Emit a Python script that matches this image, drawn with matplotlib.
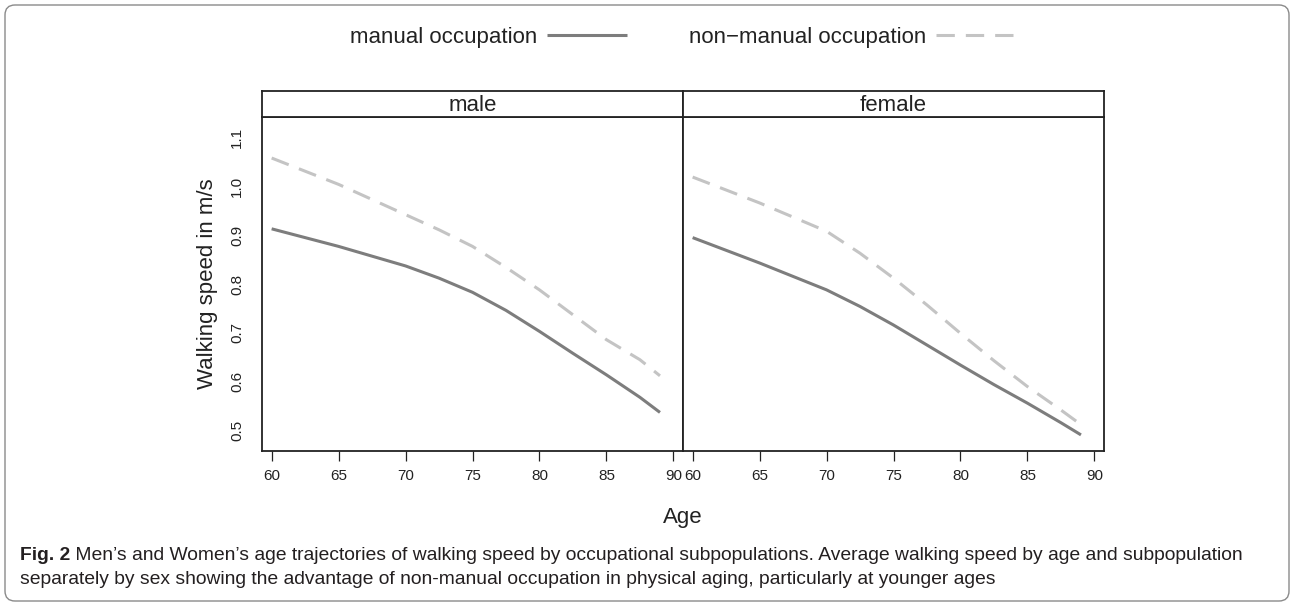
import matplotlib.pyplot as plt
from matplotlib.patches import FancyBboxPatch

ages = [60, 65, 70, 72.5, 75, 77.5, 80, 82.5, 85, 87.5, 89]

# walking speed (m/s)
male_manual = [0.913, 0.877, 0.837, 0.812, 0.783, 0.746, 0.703, 0.658, 0.614, 0.568, 0.537]
male_nonmanual = [1.058, 1.004, 0.942, 0.911, 0.877, 0.834, 0.788, 0.737, 0.686, 0.645, 0.612]
female_manual = [0.895, 0.843, 0.788, 0.754, 0.716, 0.675, 0.634, 0.594, 0.556, 0.516, 0.491]
female_nonmanual = [1.019, 0.966, 0.908, 0.863, 0.812, 0.757, 0.699, 0.643, 0.590, 0.542, 0.512]

panels = ["male", "female"]
series_labels = ["manual occupation", "non\u2212manual occupation"]
xticks = [60, 65, 70, 75, 80, 85, 90]
yticks = [0.5, 0.6, 0.7, 0.8, 0.9, 1.0, 1.1]

caption_bold = "Fig. 2"
caption_1 = (" Men\u2019s and Women\u2019s age trajectories of walking speed by occupational "
             "subpopulations. Average walking speed by age and subpopulation")
caption_2 = ("separately by sex showing the advantage of non-manual occupation in physical "
             "aging, particularly at younger ages")

plt.rcParams['font.family'] = ['Liberation Sans', 'DejaVu Sans']

W, H = 1294, 606
fig = plt.figure(figsize=(W / 100, H / 100), dpi=100)

manual_col = "#7d7d7d"
nonman_col = "#c4c4c4"
data = {"male": (male_manual, male_nonmanual), "female": (female_manual, female_nonmanual)}

lines = []
for i, name in enumerate(panels):
    left = 262 if i == 0 else 683
    ax = fig.add_axes([left / W, 1 - 451 / H, 421 / W, 334 / H])
    m, nm = data[name]
    l1, = ax.plot(ages, m, color=manual_col, lw=2.2, solid_capstyle='butt')
    l2, = ax.plot(ages, nm, color=nonman_col, lw=2.2, dashes=(6, 3.6))
    lines = [l1, l2]
    ax.set_xlim(59.28, 90.72)
    ax.set_ylim(0.458, 1.142)
    ax.set_xticks(xticks)
    ax.set_xticklabels([str(t) for t in xticks])
    ax.tick_params(axis='x', direction='out', length=7, width=0.9, pad=6,
                   labelsize=11, colors='#222222')
    if i == 0:
        ax.set_yticks(yticks)
        ax.set_yticklabels(["%.1f" % t for t in yticks], rotation=90, va='center')
        ax.tick_params(axis='y', length=0, pad=13, labelsize=11, colors='#222222')
    else:
        ax.set_yticks([])
    for s in ax.spines.values():
        s.set_linewidth(1.3)
        s.set_color('#222222')

    # strip on top of each panel
    sax = fig.add_axes([left / W, 1 - 117 / H, 421 / W, 26 / H])
    sax.set_xticks([])
    sax.set_yticks([])
    for s in sax.spines.values():
        s.set_linewidth(1.3)
        s.set_color('#222222')
    sax.text(0.5, 0.45, name, transform=sax.transAxes, ha='center', va='center',
             fontsize=16, color='#222222')

fig.legend(lines, series_labels, loc='center', bbox_to_anchor=(683 / W, 1 - 37 / H),
           ncol=2, frameon=False, markerfirst=False, fontsize=16, handlelength=3.6,
           handletextpad=0.45, columnspacing=2.75, labelcolor='#222222')

fig.text(207 / W, 1 - 284 / H, "Walking speed in m/s", rotation=90, ha='center',
         va='center', fontsize=16, color='#222222')
fig.text(683 / W, 1 - 518 / H, "Age", ha='center', va='center', fontsize=16,
         color='#222222')

cap_size = 13.9
t = fig.text(20 / W, 1 - 555 / H, caption_bold, ha='left', va='center', fontsize=cap_size,
             fontweight='bold', color='#231f20')
fig.canvas.draw()
bb = t.get_window_extent()
fig.text(bb.x1 / W, 1 - 555 / H, caption_1, ha='left', va='center', fontsize=cap_size,
         color='#231f20')
fig.text(20 / W, 1 - 579 / H, caption_2, ha='left', va='center', fontsize=cap_size,
         color='#231f20')

box = FancyBboxPatch((0.05, 0.05), 12.84, 5.96, boxstyle="round,pad=0,rounding_size=0.1",
                     transform=fig.dpi_scale_trans, fill=False, edgecolor='#8a8a8a', lw=1)
fig.add_artist(box)

fig.savefig("out.png", dpi=100)
